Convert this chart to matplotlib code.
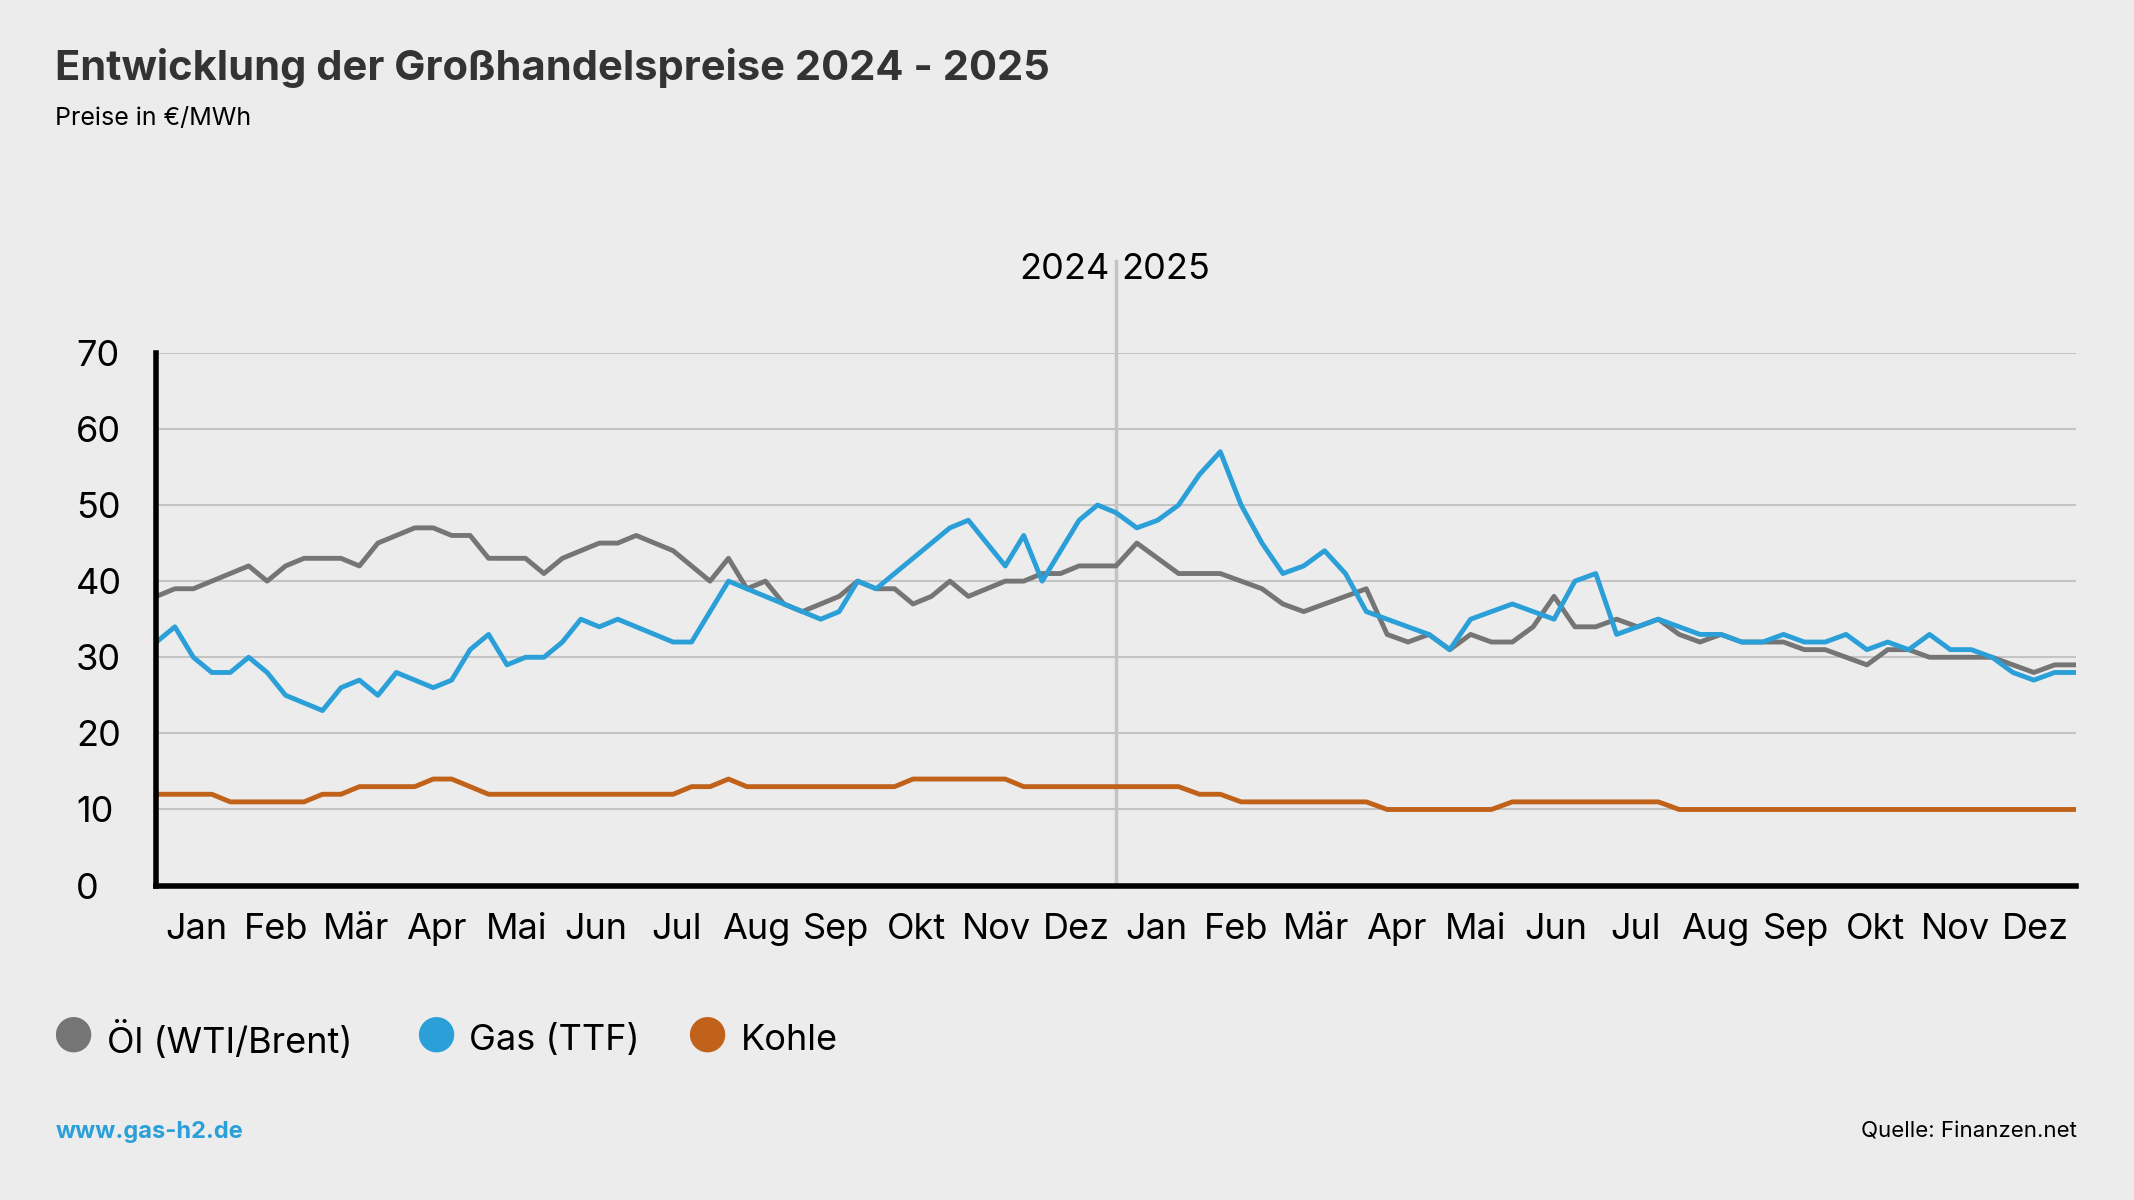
import numpy as np
import matplotlib.pyplot as plt

plt.rcParams['font.family'] = ['Inter', 'DejaVu Sans']

months = ["Jan", "Feb", "Mär", "Apr", "Mai", "Jun", "Jul", "Aug", "Sep", "Okt", "Nov", "Dez"]

oil_2024 = [38, 39, 39, 40, 41, 42, 40, 42, 43, 43, 43, 42, 45, 46, 47, 47, 46, 46, 43, 43,
            43, 41, 43, 44, 45, 45, 46, 45, 44, 42, 40, 43, 39, 40, 37, 36, 37, 38, 40, 39,
            39, 37, 38, 40, 38, 39, 40, 40, 41, 41, 42, 42]
gas_2024 = [32, 34, 30, 28, 28, 30, 28, 25, 24, 23, 26, 27, 25, 28, 27, 26, 27, 31, 33, 29,
            30, 30, 32, 35, 34, 35, 34, 33, 32, 32, 36, 40, 39, 38, 37, 36, 35, 36, 40, 39,
            41, 43, 45, 47, 48, 45, 42, 46, 40, 44, 48, 50]
coal_2024 = [12, 12, 12, 12, 11, 11, 11, 11, 11, 12, 12, 13, 13, 13, 13, 14, 14, 13, 12, 12,
             12, 12, 12, 12, 12, 12, 12, 12, 12, 13, 13, 14, 13, 13, 13, 13, 13, 13, 13, 13,
             13, 14, 14, 14, 14, 14, 14, 13, 13, 13, 13, 13]
oil_2025 = [42, 45, 43, 41, 41, 41, 40, 39, 37, 36, 37, 38, 39, 33, 32, 33, 31, 33, 32, 32,
            34, 38, 34, 34, 35, 34, 35, 33, 32, 33, 32, 32, 32, 31, 31, 30, 29, 31, 31, 30,
            30, 30, 30, 29, 28, 29, 29]
gas_2025 = [49, 47, 48, 50, 54, 57, 50, 45, 41, 42, 44, 41, 36, 35, 34, 33, 31, 35, 36, 37,
            36, 35, 40, 41, 33, 34, 35, 34, 33, 33, 32, 32, 33, 32, 32, 33, 31, 32, 31, 33,
            31, 31, 30, 28, 27, 28, 28]
coal_2025 = [13, 13, 13, 13, 12, 12, 11, 11, 11, 11, 11, 11, 11, 10, 10, 10, 10, 10, 10, 11,
             11, 11, 11, 11, 11, 11, 11, 10, 10, 10, 10, 10, 10, 10, 10, 10, 10, 10, 10, 10,
             10, 10, 10, 10, 10, 10, 10]

oil = oil_2024 + oil_2025
gas = gas_2024 + gas_2025
coal = coal_2024 + coal_2025
x = np.concatenate([np.linspace(0, 1, len(oil_2024), endpoint=False),
                    1 + np.linspace(0, 1, len(oil_2025))])

bg = "#ececec"
c_oil, c_gas, c_coal = "#757575", "#2a9fd8", "#c0621a"

fig = plt.figure(figsize=(21.34, 12), dpi=100, facecolor=bg)
ax = fig.add_axes([0.0733, 0.262, 0.8993, 0.444], facecolor=bg)

ax.plot(x, oil, color=c_oil, lw=3.5)
ax.plot(x, gas, color=c_gas, lw=3.5)
ax.plot(x, coal, color=c_coal, lw=3.5)

ax.set_xlim(0, 2)
ax.set_ylim(0, 70)
ax.set_yticks(range(0, 71, 10))
ax.grid(axis="y", color="#c4c4c4", lw=1.5)
for s in ["top", "right"]:
    ax.spines[s].set_visible(False)
ax.spines["left"].set_linewidth(4)
ax.spines["bottom"].set_linewidth(4)
ax.tick_params(length=0, labelsize=26, pad=20)
ax.tick_params(axis="y", pad=58)
for lab in ax.get_yticklabels():
    lab.set_horizontalalignment("left")
ax.set_xticks([(i + 0.5) / 12 for i in range(24)])
ax.set_xticklabels(months * 2)
ax.plot([1, 1], [0, 82], color="#c4c4c4", lw=2.5, clip_on=False, zorder=0)
ax.text(0.993, 81, "2024", ha="right", va="center", fontsize=26)
ax.text(1.005, 81, "2025", ha="left", va="center", fontsize=26)

fig.text(0.026, 0.943, "Entwicklung der Großhandelspreise 2024 - 2025", fontsize=30,
         fontweight="bold", color="#333333", va="center")
fig.text(0.026, 0.901, "Preise in €/MWh", fontsize=18, va="center")

for xl, col, lab in [(0.034, c_oil, "Öl (WTI/Brent)"), (0.204, c_gas, "Gas (TTF)"),
                     (0.331, c_coal, "Kohle")]:
    fig.text(xl, 0.134, "●", color=col, fontsize=34, va="center", ha="center")
    fig.text(xl + 0.016, 0.133, lab, fontsize=26, va="center")

fig.text(0.026, 0.057, "www.gas-h2.de", fontsize=17, fontweight="bold", color=c_gas, va="center")
fig.text(0.973, 0.057, "Quelle: Finanzen.net", fontsize=16, ha="right", va="center")

fig.savefig("out.png", dpi=100, facecolor=bg)
